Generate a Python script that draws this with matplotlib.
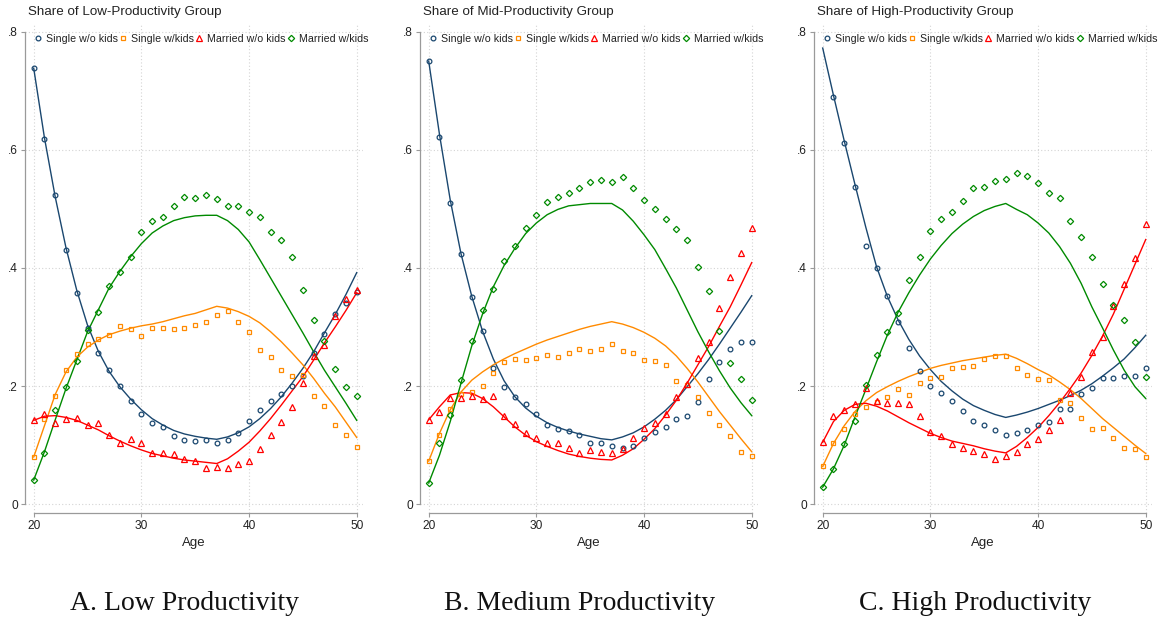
import numpy as np
import matplotlib.pyplot as plt
from matplotlib.lines import Line2D

plt.rcParams['font.family'] = ['Liberation Sans', 'DejaVu Sans']

age = list(range(20, 51))
nan = np.nan

series_names = ["Single w/o kids", "Single w/kids", "Married w/o kids", "Married w/kids"]
panel_titles = ["Share of Low-Productivity Group", "Share of Mid-Productivity Group",
                "Share of High-Productivity Group"]
captions = ["A. Low Productivity", "B. Medium Productivity", "C. High Productivity"]
y_ticks = [0, 0.2, 0.4, 0.6, 0.8]
y_tick_labels = ["0", ".2", ".4", ".6", ".8"]
x_ticks = [20, 30, 40, 50]

# ---- Low productivity: observed shares
low_single_nokids = [0.738, 0.618, 0.523, 0.431, 0.358, 0.298, 0.256, 0.227, 0.201, 0.175, 0.153,
                     0.137, 0.130, 0.116, 0.108, 0.107, 0.108, 0.103, 0.108, 0.121, 0.141, 0.160,
                     0.174, 0.186, 0.201, 0.217, 0.256, 0.289, 0.322, 0.340, 0.359]
low_single_kids = [0.080, 0.144, 0.183, 0.227, 0.254, 0.272, 0.280, 0.287, 0.302, 0.296, 0.285,
                   0.298, 0.299, 0.296, 0.298, 0.304, 0.309, 0.320, 0.327, 0.308, 0.291, 0.261,
                   0.249, 0.227, 0.217, 0.218, 0.183, 0.167, 0.134, 0.117, 0.097]
low_married_nokids = [0.142, 0.153, 0.137, 0.145, 0.146, 0.135, 0.138, 0.118, 0.104, 0.111, 0.103,
                      0.087, 0.086, 0.085, 0.076, 0.073, 0.061, 0.063, 0.061, 0.068, 0.073, 0.094,
                      0.117, 0.140, 0.165, 0.206, 0.251, 0.269, 0.318, 0.347, 0.362]
low_married_kids = [0.041, 0.087, 0.159, 0.198, 0.243, 0.295, 0.326, 0.369, 0.393, 0.419, 0.460,
                    0.479, 0.486, 0.504, 0.520, 0.519, 0.523, 0.516, 0.505, 0.504, 0.495, 0.486,
                    0.460, 0.447, 0.419, 0.362, 0.312, 0.277, 0.229, 0.199, 0.183]
# ---- Low productivity: model
low_fit_single_nokids = [0.738, 0.620, 0.520, 0.434, 0.362, 0.303, 0.259, 0.225, 0.199, 0.178, 0.160,
                         0.145, 0.134, 0.125, 0.119, 0.115, 0.112, 0.110, 0.114, 0.121, 0.131, 0.145,
                         0.162, 0.182, 0.205, 0.230, 0.258, 0.290, 0.321, 0.355, 0.392]
low_fit_single_kids = [0.080, 0.133, 0.186, 0.224, 0.249, 0.266, 0.278, 0.287, 0.293, 0.298, 0.302,
                       0.305, 0.309, 0.314, 0.319, 0.323, 0.329, 0.335, 0.332, 0.326, 0.318, 0.307,
                       0.292, 0.275, 0.256, 0.236, 0.213, 0.188, 0.165, 0.139, 0.113]
low_fit_married_nokids = [0.142, 0.149, 0.150, 0.147, 0.142, 0.134, 0.126, 0.116, 0.107, 0.099, 0.092,
                          0.086, 0.082, 0.078, 0.075, 0.073, 0.071, 0.069, 0.077, 0.090, 0.105, 0.124,
                          0.145, 0.168, 0.192, 0.216, 0.244, 0.273, 0.300, 0.328, 0.358]
low_fit_married_kids = [0.041, 0.089, 0.143, 0.196, 0.244, 0.292, 0.329, 0.366, 0.394, 0.419, 0.441,
                        0.459, 0.471, 0.480, 0.485, 0.488, 0.489, 0.489, 0.480, 0.465, 0.444, 0.414,
                        0.383, 0.352, 0.321, 0.290, 0.258, 0.227, 0.199, 0.171, 0.142]

# ---- Mid productivity: observed shares
mid_single_nokids = [0.750, 0.621, 0.509, 0.424, 0.350, 0.293, 0.230, 0.199, 0.182, 0.169, 0.152,
                     0.134, 0.128, 0.124, 0.118, 0.104, 0.103, 0.098, 0.095, 0.099, 0.112, 0.123,
                     0.131, 0.144, 0.149, 0.173, 0.212, 0.241, 0.263, 0.275, 0.275]
mid_single_kids = [0.073, 0.118, 0.161, 0.187, 0.190, 0.201, 0.222, 0.240, 0.246, 0.245, 0.248,
                   0.252, 0.250, 0.256, 0.262, 0.260, 0.262, 0.271, 0.260, 0.256, 0.245, 0.242,
                   0.235, 0.209, 0.202, 0.181, 0.155, 0.134, 0.115, 0.088, 0.082]
mid_married_nokids = [0.143, 0.157, 0.180, 0.180, 0.184, 0.179, 0.184, 0.150, 0.136, 0.120, 0.112,
                      0.103, 0.103, 0.096, 0.086, 0.092, 0.089, 0.086, 0.094, 0.112, 0.129, 0.137,
                      0.152, 0.182, 0.203, 0.248, 0.274, 0.332, 0.385, 0.426, 0.467]
mid_married_kids = [0.036, 0.104, 0.151, 0.211, 0.277, 0.328, 0.365, 0.412, 0.437, 0.467, 0.489,
                    0.512, 0.520, 0.527, 0.536, 0.546, 0.549, 0.546, 0.554, 0.535, 0.515, 0.500,
                    0.482, 0.466, 0.447, 0.401, 0.361, 0.293, 0.239, 0.212, 0.177]
# ---- Mid productivity: model
mid_fit_single_nokids = [0.750, 0.626, 0.515, 0.424, 0.352, 0.293, 0.246, 0.209, 0.182, 0.163, 0.149,
                         0.138, 0.130, 0.124, 0.119, 0.115, 0.111, 0.109, 0.114, 0.121, 0.131, 0.144,
                         0.159, 0.177, 0.199, 0.221, 0.245, 0.271, 0.298, 0.325, 0.353]
mid_fit_single_kids = [0.073, 0.120, 0.160, 0.190, 0.210, 0.224, 0.236, 0.246, 0.255, 0.263, 0.271,
                       0.278, 0.284, 0.290, 0.296, 0.301, 0.305, 0.309, 0.305, 0.299, 0.291, 0.281,
                       0.268, 0.251, 0.230, 0.207, 0.182, 0.157, 0.134, 0.111, 0.089]
mid_fit_married_nokids = [0.143, 0.165, 0.185, 0.189, 0.188, 0.179, 0.165, 0.148, 0.131, 0.117, 0.106,
                          0.098, 0.091, 0.085, 0.081, 0.078, 0.076, 0.075, 0.083, 0.094, 0.110, 0.128,
                          0.151, 0.176, 0.205, 0.236, 0.267, 0.301, 0.334, 0.371, 0.409]
mid_fit_married_kids = [0.036, 0.083, 0.140, 0.205, 0.268, 0.322, 0.368, 0.404, 0.433, 0.458, 0.476,
                        0.490, 0.499, 0.505, 0.507, 0.509, 0.509, 0.509, 0.498, 0.479, 0.456, 0.431,
                        0.399, 0.366, 0.329, 0.292, 0.258, 0.226, 0.197, 0.172, 0.150]

# ---- High productivity: observed shares
high_single_nokids = [nan, 0.689, 0.611, 0.537, 0.437, 0.399, 0.353, 0.309, 0.265, 0.226, 0.201,
                      0.188, 0.174, 0.158, 0.141, 0.135, 0.126, 0.118, 0.121, 0.126, 0.135, 0.140,
                      0.162, 0.162, 0.186, 0.196, 0.214, 0.213, 0.217, 0.217, 0.230]
high_single_kids = [0.064, 0.103, 0.127, 0.153, 0.164, 0.173, 0.182, 0.195, 0.185, 0.205, 0.213,
                    0.216, 0.231, 0.233, 0.234, 0.246, 0.251, 0.251, 0.231, 0.218, 0.212, 0.210,
                    0.177, 0.171, 0.146, 0.128, 0.129, 0.112, 0.096, 0.093, 0.080]
high_married_nokids = [0.105, 0.150, 0.160, 0.170, 0.196, 0.174, 0.172, 0.171, 0.169, 0.150, 0.123,
                       0.115, 0.102, 0.096, 0.090, 0.085, 0.076, 0.081, 0.089, 0.102, 0.111, 0.125,
                       0.143, 0.189, 0.215, 0.257, 0.283, 0.336, 0.373, 0.417, 0.474]
high_married_kids = [0.029, 0.060, 0.102, 0.141, 0.202, 0.253, 0.291, 0.324, 0.379, 0.419, 0.462,
                     0.482, 0.494, 0.514, 0.535, 0.537, 0.547, 0.551, 0.560, 0.556, 0.543, 0.526,
                     0.518, 0.479, 0.453, 0.418, 0.372, 0.337, 0.312, 0.274, 0.215]
# ---- High productivity: model
high_fit_single_nokids = [0.772, 0.692, 0.615, 0.541, 0.469, 0.402, 0.352, 0.312, 0.279, 0.251, 0.228,
                          0.208, 0.192, 0.178, 0.167, 0.159, 0.152, 0.147, 0.151, 0.156, 0.162, 0.169,
                          0.176, 0.184, 0.193, 0.204, 0.217, 0.231, 0.246, 0.265, 0.286]
high_fit_single_kids = [0.064, 0.103, 0.133, 0.157, 0.175, 0.189, 0.199, 0.208, 0.216, 0.223, 0.230,
                        0.235, 0.239, 0.243, 0.246, 0.249, 0.252, 0.254, 0.247, 0.238, 0.228, 0.219,
                        0.207, 0.194, 0.179, 0.162, 0.145, 0.130, 0.115, 0.100, 0.086]
high_fit_married_nokids = [0.105, 0.140, 0.159, 0.169, 0.171, 0.166, 0.158, 0.148, 0.138, 0.129, 0.120,
                           0.113, 0.107, 0.103, 0.099, 0.094, 0.090, 0.087, 0.098, 0.113, 0.130, 0.150,
                           0.172, 0.196, 0.222, 0.252, 0.285, 0.322, 0.364, 0.406, 0.448]
high_fit_married_kids = [0.029, 0.060, 0.100, 0.148, 0.194, 0.241, 0.286, 0.325, 0.358, 0.388, 0.415,
                         0.438, 0.458, 0.474, 0.487, 0.497, 0.504, 0.509, 0.499, 0.490, 0.476, 0.459,
                         0.436, 0.408, 0.374, 0.334, 0.298, 0.261, 0.227, 0.199, 0.179]

panels = [
    ([low_single_nokids, low_single_kids, low_married_nokids, low_married_kids],
     [low_fit_single_nokids, low_fit_single_kids, low_fit_married_nokids, low_fit_married_kids]),
    ([mid_single_nokids, mid_single_kids, mid_married_nokids, mid_married_kids],
     [mid_fit_single_nokids, mid_fit_single_kids, mid_fit_married_nokids, mid_fit_married_kids]),
    ([high_single_nokids, high_single_kids, high_married_nokids, high_married_kids],
     [high_fit_single_nokids, high_fit_single_kids, high_fit_married_nokids, high_fit_married_kids]),
]

colors = ["#1a476f", "#ff8a00", "#ff0000", "#008a00"]
markers = ["o", "s", "^", "D"]
msizes = [3.4, 3.4, 3.8, 3.2]

W, H = 1161, 619
fig = plt.figure(figsize=(W / 100, H / 100), dpi=100)
ax_lefts = [25, 420, 814]
caption_x = [185, 580, 975]

for k, (obs, fit) in enumerate(panels):
    ax = fig.add_axes([ax_lefts[k] / W, (H - 513) / H, 338 / W, 490 / H])
    x0 = 20 - 8.7 / 10.767
    ax.set_xlim(x0, x0 + 338 / 10.767)
    ax.set_ylim(-8.7 / 591, -8.7 / 591 + 490 / 591)

    for v in y_ticks:
        ax.axhline(v, color="#d4d4d4", lw=0.8, ls=(0, (1, 2)), zorder=0)
    for v in x_ticks:
        ax.axvline(v, color="#d4d4d4", lw=0.8, ls=(0, (1, 2)), zorder=0)

    for s in range(4):
        ax.plot(age, obs[s], ls="none", marker=markers[s], ms=msizes[s], mfc="none",
                mec=colors[s], mew=0.9, zorder=3)
        ax.plot(age, fit[s], color=colors[s], lw=1.0, zorder=2)

    for side in ["top", "right"]:
        ax.spines[side].set_visible(False)
    ax.spines["left"].set_bounds(0, 0.8)
    ax.spines["bottom"].set_bounds(20, 50)
    for side in ["left", "bottom"]:
        ax.spines[side].set_color("#9a9a9a")
        ax.spines[side].set_linewidth(0.9)

    ax.set_yticks(y_ticks)
    ax.set_yticklabels(y_tick_labels)
    ax.set_xticks(x_ticks)
    ax.tick_params(direction="out", length=3, width=0.8, color="#9a9a9a",
                   labelcolor="#222222", labelsize=8.6, pad=2)

    ax.text(0.009, 1.0224, panel_titles[k], transform=ax.transAxes, ha="left", va="center",
            fontsize=9.6, color="#222222")
    ax.text(0.5, -0.0612, "Age", transform=ax.transAxes, ha="center", va="center",
            fontsize=9.5, color="#222222")

    handles = [Line2D([], [], ls="none", marker=markers[s], ms=msizes[s], mfc="none",
                      mec=colors[s], mew=0.9) for s in range(4)]
    ax.legend(handles, series_names, loc="center left", bbox_to_anchor=(0.028, 0.967),
              ncol=4, frameon=False, fontsize=7.7, handlelength=0.6, handletextpad=0.49,
              columnspacing=0.14, borderpad=0, borderaxespad=0, labelcolor="#222222")

    fig.text(caption_x[k] / W, (H - 603) / H, captions[k], ha="center", va="center",
             fontsize=20, family="Liberation Serif", color="#111111")

fig.savefig("out.png", dpi=100)
